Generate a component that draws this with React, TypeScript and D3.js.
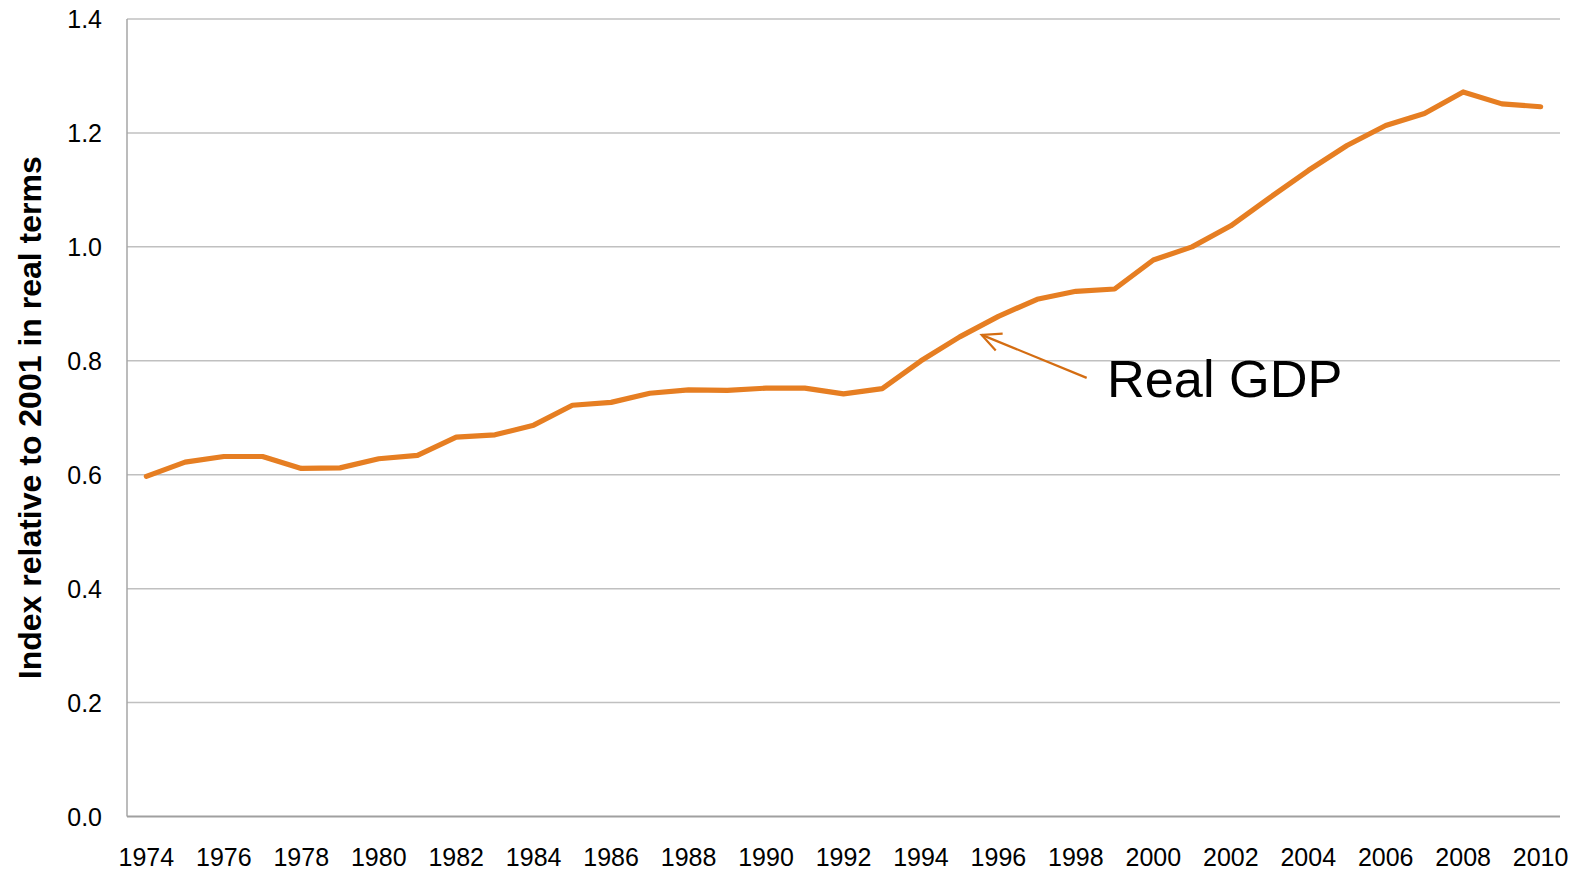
import React, { useEffect } from "react";
import * as d3 from "d3";

const years: number[] = d3.range(1974, 2011);
const gdpIndex: number[] = [
  0.597, 0.622, 0.632, 0.632, 0.611, 0.612, 0.628, 0.634, 0.666, 0.67,
  0.687, 0.722, 0.727, 0.743, 0.749, 0.748, 0.752, 0.752, 0.742, 0.751,
  0.8, 0.842, 0.878, 0.908, 0.922, 0.926, 0.977, 1.0, 1.037, 1.086,
  1.134, 1.178, 1.213, 1.234, 1.272, 1.251, 1.246,
];
const yTicks: number[] = [0, 0.2, 0.4, 0.6, 0.8, 1.0, 1.2, 1.4];
const yTitle = "Index relative to 2001 in real terms";
const seriesLabel = "Real GDP";
const annotateYear = 1995;

const W = 1587;
const H = 872;
const left = 127;
const right = 1560;
const top = 19;
const bottom = 816.5;
const font = "'Liberation Sans', Arial, Helvetica, sans-serif";

export default function App() {
  useEffect(() => {
    document.body.style.margin = "0";
  }, []);

  const x = d3
    .scaleBand<number>()
    .domain(years)
    .range([left, right])
    .paddingInner(0)
    .paddingOuter(0);
  const xc = (yr: number) => (x(yr) as number) + x.bandwidth() / 2;
  const y = d3.scaleLinear().domain([0, 1.4]).range([bottom, top]);

  const line = d3
    .line<number>()
    .x((_, i) => xc(years[i]))
    .y((d) => y(d));

  // annotation arrow anchored next to the 1995 data point
  const i0 = years.indexOf(annotateYear);
  const tipX = xc(annotateYear) + 22;
  const tipY = y(gdpIndex[i0]) - 2;
  const tailX = tipX + 105;
  const tailY = tipY + 43;
  const ang = Math.atan2(tailY - tipY, tailX - tipX);
  const headLen = 21;
  const spread = 0.45;
  const h1 = [tipX + headLen * Math.cos(ang - spread), tipY + headLen * Math.sin(ang - spread)];
  const h2 = [tipX + headLen * Math.cos(ang + spread), tipY + headLen * Math.sin(ang + spread)];

  return (
    <svg width={W} height={H} style={{ display: "block", background: "#fff" }}>
      {yTicks.map((t) =>
        t === 0 ? null : (
          <line key={"g" + t} x1={left} x2={right} y1={y(t)} y2={y(t)} stroke="#c0c0c0" strokeWidth={1.5} />
        )
      )}
      <line x1={left} x2={left} y1={top} y2={bottom} stroke="#a6a6a6" strokeWidth={1.5} />
      <line x1={left} x2={right} y1={bottom} y2={bottom} stroke="#a0a0a0" strokeWidth={1.8} />
      {yTicks.map((t) => (
        <text key={"t" + t} x={102} y={y(t) + 9} textAnchor="end" fontFamily={font} fontSize={25} fill="#000">
          {t.toFixed(1)}
        </text>
      ))}
      {years
        .filter((yr) => yr % 2 === 0)
        .map((yr) => (
          <text key={"x" + yr} x={xc(yr)} y={865.5} textAnchor="middle" fontFamily={font} fontSize={25} fill="#000">
            {yr}
          </text>
        ))}
      <text
        transform={`translate(41, ${(top + bottom) / 2}) rotate(-90)`}
        textAnchor="middle"
        fontFamily={font}
        fontSize={32}
        fontWeight="bold"
        fill="#000"
      >
        {yTitle}
      </text>
      <path d={line(gdpIndex) || ""} fill="none" stroke="#e67e22" strokeWidth={5.2} strokeLinejoin="round" strokeLinecap="round" />
      <line x1={tailX} y1={tailY} x2={tipX} y2={tipY} stroke="#d46d12" strokeWidth={2.2} />
      <polyline
        points={`${h1[0]},${h1[1]} ${tipX},${tipY} ${h2[0]},${h2[1]}`}
        fill="none"
        stroke="#d46d12"
        strokeWidth={2.2}
      />
      <text x={1107} y={396.5} fontFamily={font} fontSize={52.3} fill="#000">
        {seriesLabel}
      </text>
    </svg>
  );
}
